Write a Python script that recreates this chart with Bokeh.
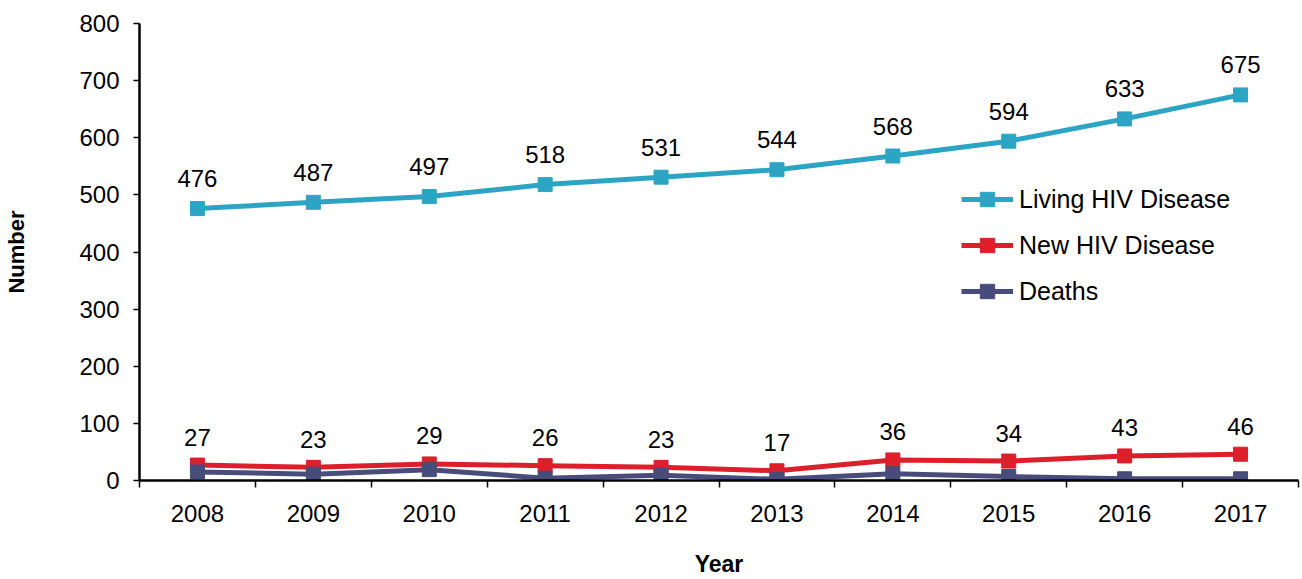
from bokeh.plotting import figure
from bokeh.models import ColumnDataSource, FixedTicker, Legend, LegendItem, Range1d
from bokeh.embed import file_html
from bokeh.resources import INLINE
from bokeh.core.properties import value

years = ["2008", "2009", "2010", "2011", "2012", "2013", "2014", "2015", "2016", "2017"]
living = [476, 487, 497, 518, 531, 544, 568, 594, 633, 675]
new_hiv = [27, 23, 29, 26, 23, 17, 36, 34, 43, 46]
deaths = [15, 11, 19, 4, 9, 2, 12, 7, 3, 3]
y_ticks = [0, 100, 200, 300, 400, 500, 600, 700, 800]

FONT = "Liberation Sans"
C_LIV = "#2CA5C4"
C_NEW = "#DC1F2B"
C_DEA = "#484C7A"

idx = list(range(len(years)))
src = ColumnDataSource(dict(
    x=idx,
    living=living,
    new=new_hiv,
    deaths=deaths,
    living_lbl=[str(v) for v in living],
    new_lbl=[str(v) for v in new_hiv],
))

p = figure(width=1302, height=579, output_backend="svg", toolbar_location=None,
           x_range=Range1d(-0.5, len(years) - 0.5), y_range=Range1d(y_ticks[0], y_ticks[-1]),
           min_border_left=139, min_border_right=4, min_border_top=23, min_border_bottom=98)
p.outline_line_color = None
p.grid.visible = False
p.background_fill_color = "white"

r1l = p.line("x", "living", source=src, line_color=C_LIV, line_width=5)
r1m = p.scatter("x", "living", source=src, marker="square", size=14,
                fill_color=C_LIV, line_color=C_LIV)
r2l = p.line("x", "new", source=src, line_color=C_NEW, line_width=5)
r2m = p.scatter("x", "new", source=src, marker="square", size=14,
                fill_color=C_NEW, line_color=C_NEW)
r3l = p.line("x", "deaths", source=src, line_color=C_DEA, line_width=5)
r3m = p.scatter("x", "deaths", source=src, marker="square", size=14,
                fill_color=C_DEA, line_color=C_DEA)

p.text("x", "living", text="living_lbl", source=src, y_offset=-30,
       text_align="center", text_baseline="middle", text_font=value(FONT),
       text_font_size="24px", text_color="black")
p.text("x", "new", text="new_lbl", source=src, y_offset=-28,
       text_align="center", text_baseline="middle", text_font=value(FONT),
       text_font_size="24px", text_color="black")

# x axis
xa = p.xaxis[0]
xa.ticker = FixedTicker(ticks=idx, minor_ticks=[i - 0.5 for i in range(len(years) + 1)])
xa.major_label_overrides = {i: y for i, y in enumerate(years)}
xa.major_tick_line_color = None
xa.major_tick_out = 0
xa.major_tick_in = 0
xa.minor_tick_out = 7
xa.minor_tick_in = 0
xa.minor_tick_line_color = "black"
xa.minor_tick_line_width = 1.5
xa.axis_line_color = "black"
xa.axis_line_width = 2.5
xa.major_label_text_font = FONT
xa.major_label_text_font_size = "24px"
xa.major_label_text_color = "black"
xa.major_label_standoff = 17
xa.axis_label = "Year"
xa.axis_label_text_font = FONT
xa.axis_label_text_font_size = "23px"
xa.axis_label_text_font_style = "bold"
xa.axis_label_text_color = "black"
xa.axis_label_standoff = 26

# y axis
ya = p.yaxis[0]
ya.ticker = FixedTicker(ticks=y_ticks, minor_ticks=[])
ya.major_tick_out = 6
ya.major_tick_in = 0
ya.major_tick_line_width = 1.5
ya.major_tick_line_color = "black"
ya.axis_line_color = "black"
ya.axis_line_width = 2.5
ya.major_label_text_font = FONT
ya.major_label_text_font_size = "24px"
ya.major_label_text_color = "black"
ya.major_label_standoff = 14
ya.axis_label = "Number"
ya.axis_label_text_font = FONT
ya.axis_label_text_font_size = "22px"
ya.axis_label_text_font_style = "bold"
ya.axis_label_text_color = "black"
ya.axis_label_standoff = 47

legend = Legend(items=[
    LegendItem(label="Living HIV Disease", renderers=[r1l, r1m]),
    LegendItem(label="New HIV Disease", renderers=[r2l, r2m]),
    LegendItem(label="Deaths", renderers=[r3l, r3m]),
], location=(822, 171))
legend.glyph_width = 52
legend.glyph_height = 36
legend.label_height = 36
legend.spacing = 10
legend.padding = 0
legend.margin = 0
legend.label_standoff = 6
legend.border_line_color = None
legend.background_fill_alpha = 0
legend.label_text_font = FONT
legend.label_text_font_size = "25px"
legend.label_text_color = "black"
p.add_layout(legend, "center")

open("out.html", "w").write(file_html(p, INLINE))
